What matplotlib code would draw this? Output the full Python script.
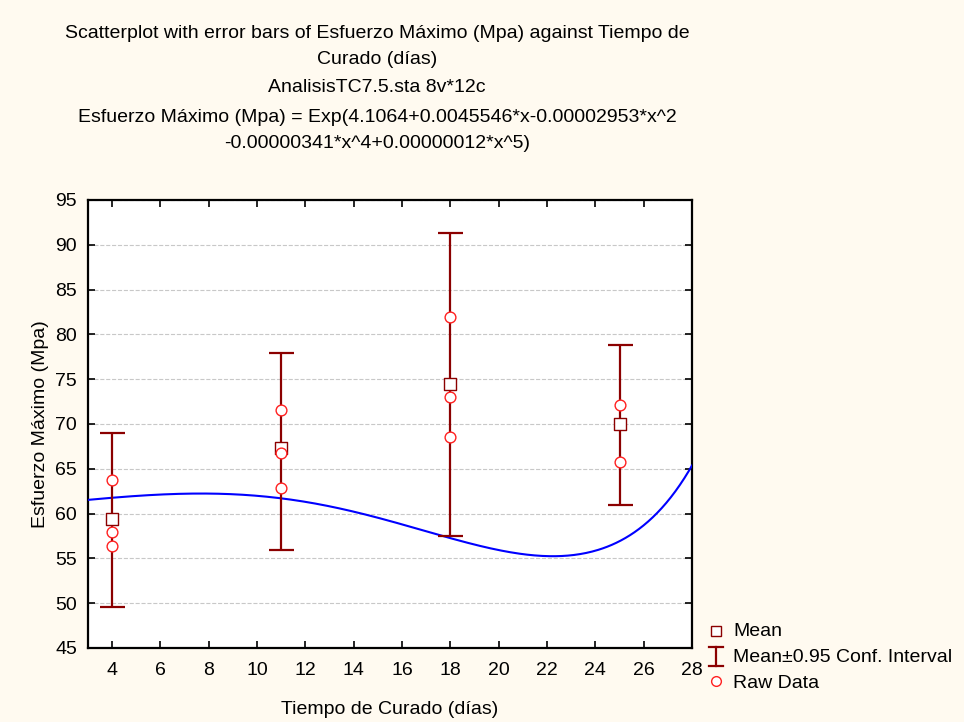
import numpy as np
import matplotlib
matplotlib.use('Agg')
import matplotlib.pyplot as plt
from matplotlib.lines import Line2D

plt.rcParams['font.family'] = ['Liberation Sans', 'DejaVu Sans']

# data
dias = [4, 11, 18, 25]
media = [59.4, 67.3, 74.5, 70.0]
ic_sup = [69.0, 77.9, 91.3, 78.8]
ic_inf = [49.6, 55.9, 57.5, 61.0]
raw_x = [4, 4, 4, 11, 11, 11, 18, 18, 18, 25, 25]
raw_y = [63.8, 57.9, 56.4, 71.6, 66.8, 62.9, 81.9, 73.0, 68.6, 72.1, 65.8]
# fit coefficients from the title: powers 0, 1, 2, 4, 5
coef_pot = [0, 1, 2, 4, 5]
coef_val = [4.1064, 0.0045546, -0.00002953, -0.00000341, 0.00000012]

bg = '#fffaf0'
rojo_osc = '#8b0000'
fs = 14
fig = plt.figure(figsize=(9.64, 7.22), dpi=100, facecolor=bg)
ax = fig.add_axes([88/964, 74/722, 604/964, 448/722])
ax.set_facecolor('white')

# fitted curve
xc = np.linspace(3, 28, 400)
yc = np.exp(sum(c * xc**p for p, c in zip(coef_pot, coef_val)))
ax.plot(xc, yc, color='#0000ff', lw=1.5, zorder=3)

# error bars
err = [np.array(media) - np.array(ic_inf), np.array(ic_sup) - np.array(media)]
ax.errorbar(dias, media, yerr=err, fmt='none', ecolor=rojo_osc, elinewidth=1.6,
            capsize=9, capthick=1.6, zorder=4)
ax.scatter(dias, media, marker='s', s=70, facecolors='white',
           edgecolors=rojo_osc, linewidths=1.0, zorder=5)
ax.scatter(raw_x, raw_y, marker='o', s=60, facecolors='white',
           edgecolors='#ff2020', linewidths=1.0, zorder=6)

ax.set_xlim(3, 28)
ax.set_ylim(45, 95)
ax.set_xticks(range(4, 29, 2))
ax.set_yticks(range(45, 96, 5))
ax.tick_params(direction='in', length=5, width=1.2, top=True, right=True,
               labelsize=fs, pad=10)
ax.tick_params(axis='y', pad=8)
ax.yaxis.grid(True, color='#c8c8c8', linestyle='--', linewidth=0.8)
for s in ax.spines.values():
    s.set_linewidth(1.6)
ax.set_xlabel('Tiempo de Curado (días)', fontsize=fs, labelpad=16)
ax.set_ylabel('Esfuerzo Máximo (Mpa)', fontsize=fs, labelpad=4)

# titles
titulos = ['Scatterplot with error bars of Esfuerzo Máximo (Mpa) against Tiempo de',
           'Curado (días)', 'AnalisisTC7.5.sta 8v*12c',
           'Esfuerzo Máximo (Mpa) = Exp(4.1064+0.0045546*x-0.00002953*x^2',
           '-0.00000341*x^4+0.00000012*x^5)']
ys = [34, 59, 88, 118, 143]
for t, y in zip(titulos, ys):
    fig.text(377/964, 1 - y/722, t, ha='center', va='center', fontsize=fs)

# legend
etiquetas = ['Mean', 'Mean±0.95 Conf. Interval', 'Raw Data']
for i, e in enumerate(etiquetas):
    yy = 1 - (632 + i * 26) / 722
    fig.text(733/964, yy, e, ha='left', va='center', fontsize=fs)
fig.lines.append(Line2D([716/964], [1 - 631/722], marker='s', ls='none', mfc='white',
                        mec=rojo_osc, ms=7, transform=fig.transFigure))
fig.lines.append(Line2D([716/964], [1 - 681/722], marker='o', ls='none', mfc='white',
                        mec='#ff2020', ms=7, transform=fig.transFigure))
fig.lines.append(Line2D([716/964, 716/964], [1 - 647/722, 1 - 666/722], color=rojo_osc,
                        lw=1.6, transform=fig.transFigure))
fig.lines.append(Line2D([709/964, 723/964], [1 - 647/722, 1 - 647/722], color=rojo_osc,
                        lw=1.6, transform=fig.transFigure))
fig.lines.append(Line2D([709/964, 723/964], [1 - 666/722, 1 - 666/722], color=rojo_osc,
                        lw=1.6, transform=fig.transFigure))

fig.savefig('out.png', dpi=100, facecolor=bg)
